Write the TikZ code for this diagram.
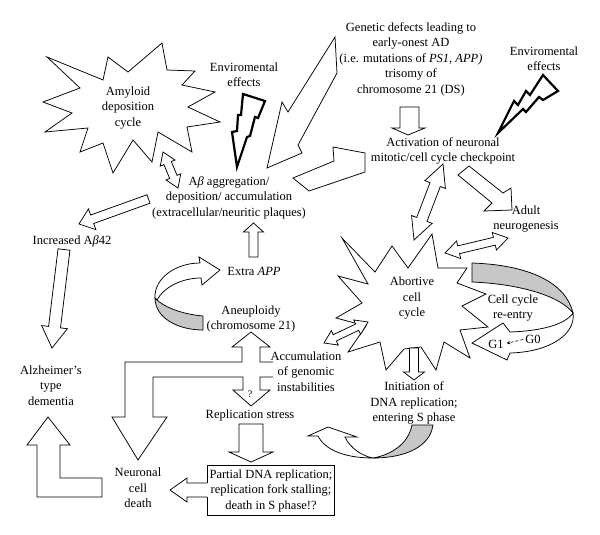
\documentclass[tikz,border=0pt]{standalone}
\usepackage{fontspec}
\setmainfont{Liberation Serif}
\usetikzlibrary{calc,arrows.meta}
\tikzset{
 blk/.style={draw=black, fill=white, line width=0.75pt, line join=miter},
 boltshape/.style={draw=black, fill=white, line width=2.2pt, line join=miter},
 gry/.style={draw=black, fill=black!22, line width=0.75pt},
 lbl/.style={align=center, inner sep=0pt, font=\fontsize{12.5}{15.5}\selectfont},
}
% single block arrow: #1 start, #2 tip, #3 shaft half width, #4 head half width, #5 head length
\newcommand\sglarr[5]{%
  \coordinate (sc) at ($(#2)!#5!(#1)$);
  \draw[blk] ($(#1)!#3!90:(#2)$) -- ($(sc)!#3!90:(#2)$) -- ($(sc)!#4!90:(#2)$) -- (#2)
    -- ($(sc)!#4!-90:(#2)$) -- ($(sc)!#3!-90:(#2)$) -- ($(#1)!#3!-90:(#2)$) -- cycle;}
% double block arrow
\newcommand\dblarr[5]{%
  \coordinate (da) at ($(#1)!#5!(#2)$);
  \coordinate (db) at ($(#2)!#5!(#1)$);
  \draw[blk] (#1) -- ($(da)!#4!90:(#2)$) -- ($(da)!#3!90:(#2)$) -- ($(db)!#3!-90:(#1)$)
    -- ($(db)!#4!-90:(#1)$) -- (#2) -- ($(db)!#4!90:(#1)$) -- ($(db)!#3!90:(#1)$)
    -- ($(da)!#3!-90:(#2)$) -- ($(da)!#4!-90:(#2)$) -- cycle;}
\begin{document}
\begin{tikzpicture}[x=1pt,y=-1pt]
\useasboundingbox (0,0) rectangle (600,535);

% ---- amyloid star
\draw[blk] (47,57)--(103,80)--(108,57)--(128,72)--(162,43)--(167,70)--(195,71)--(182,85)--(215,92)--(188,107)--(220,122)--(187,127)--(192,152)--(158,132)--(152,162)--(133,140)--(113,173)--(103,143)--(80,152)--(88,128)--(45,132)--(72,113)--(43,102)--(80,88)--cycle;

% ---- abortive star
\draw[blk] (342,238)--(375,272)--(392,246)--(408,268)--(432,234)--(438,268)--(467,268)--(457,283)--(486,294)--(462,306)--(488,327)--(460,330)--(470,358)--(444,342)--(436,370)--(421,347)--(404,349)--(386,370)--(380,342)--(348,352)--(366,326)--(336,318)--(362,303)--(338,276)--(368,284)--cycle;

% ---- lightning bolts
\draw[boltshape] (243,94)--(265,101)--(258,118)--(255,117)--(250,136)--(247,137)--(237,167)--(232,132)--(237,131)--(238,115)--(241,115)--cycle;
\draw[boltshape] (498,133)--(514,101)--(518,105)--(526,91)--(530,95)--(543,75)--(558,91)--(543,100)--(539,97)--(526,112)--(523,109)--cycle;

% ---- big arrow from genetic defects
\draw[blk] (335,37)--(337,73)--(298,145)--(302,153)--(267,168)--(282,102)--(288,112)--cycle;

% ---- genetic -> activation
\draw[blk] (400,107)--(419,107)--(419,128)--(425,128)--(408,135)--(392,128)--(400,128)--cycle;

% ---- abeta -> activation
\draw[blk] (293,178)--(334,161)--(333,147)--(365,153)--(365,172)--(309,191)--cycle;

% ---- activation -> adult neurogenesis
\draw[blk] (458,175)--(469,166)--(503,193)--(511,188)--(512,210)--(484,211)--(492,203)--cycle;

% ---- coordinates for straight arrows
\coordinate (amyA) at (163,152); \coordinate (amyB) at (178,188);
\coordinate (incA) at (148.5,199); \coordinate (incB) at (79,224);
\coordinate (alzA) at (64,249.5); \coordinate (alzB) at (52,348);
\coordinate (extA) at (253.5,257); \coordinate (extB) at (253.5,223);
\coordinate (repA) at (251,424); \coordinate (repB) at (251,462);
\coordinate (iniA) at (414,348); \coordinate (iniB) at (414,380);
\coordinate (actA) at (414,240); \coordinate (actB) at (443,164);
\coordinate (adA) at (445,253); \coordinate (adB) at (508,238);
\coordinate (acA) at (324,343); \coordinate (acB) at (368,322);

\dblarr{amyA}{amyB}{4pt}{8pt}{12pt}
\sglarr{incA}{incB}{4.5pt}{11pt}{14pt}
\sglarr{alzA}{alzB}{6pt}{13pt}{21pt}
\sglarr{extA}{extB}{4.5pt}{10pt}{9pt}
\sglarr{repA}{repB}{12pt}{22pt}{10pt}
\sglarr{iniA}{iniB}{4.5pt}{10.5pt}{8pt}
\dblarr{actA}{actB}{5.5pt}{11pt}{22pt}
\dblarr{adA}{adB}{4pt}{9pt}{14pt}
\dblarr{acA}{acB}{3.5pt}{8pt}{12pt}

% ---- L arrow to Alzheimer's
\draw[blk] (37,445)--(27,445)--(48,417)--(70,445)--(60,445)--(60,478)--(102,478)--(102,497)--(37,497)--cycle;

% ---- compound arrow from accumulation
\fill[white] (273,362)--(260,362)--(260,347)--(270,347)--(251,332)--(232,347)--(242,347)--(242,362)--(125,362)--(125,417)--(112,417)--(138,460)--(167,417)--(153,417)--(153,377)--(243,377)--(243,390)--(233,390)--(251,406)--(270,390)--(260,390)--(260,377)--(273,377)--cycle;
\draw[line width=0.75pt, line join=miter] (273,362)--(260,362)--(260,347)--(270,347)--(251,332)--(232,347)--(242,347)--(242,362)--(125,362)--(125,417)--(112,417)--(138,460)--(167,417)--(153,417)--(153,377)--(243,377)--(243,390)--(233,390)--(251,406)--(270,390)--(260,390)--(260,377)--(273,377);

% ---- partial box and arrow to neuronal death
\draw[line width=0.75pt] (207,483)--(207,465)--(334,465)--(334,515)--(207,515)--(207,497);
\draw[line width=0.75pt, line join=miter] (207,483)--(187,483)--(187,478)--(170,490)--(187,502)--(187,497)--(207,497);

% ---- curved arrow near Extra APP
\draw[gry] (203,316) .. controls (180,314) and (162,306) .. (155,298) .. controls (155,318) and (178,330) .. (203,330) -- cycle;
\draw[blk] (155,298) .. controls (154,278) and (176,263) .. (200,263) -- (199,257) -- (220,270) -- (202,285) -- (201,278) .. controls (182,278) and (164,287) .. (157,300) -- cycle;

% ---- curved arrow cell cycle re-entry
\draw[gry] (472,263) .. controls (530,265) and (566,283) .. (573,313) .. controls (560,296) and (520,284) .. (472,282) -- cycle;
\draw[blk] (573,313) .. controls (576,334) and (550,352) .. (510,353) -- (507,360) -- (472,343) -- (503,323) -- (510,332) .. controls (540,331) and (565,325) .. (573,313) -- cycle;

% ---- curved arrow at bottom
\draw[gry] (412,425) -- (433,425) .. controls (430,447) and (405,458) .. (373,458) .. controls (390,455) and (408,445) .. (412,425) -- cycle;
\draw[blk] (373,458) .. controls (345,458) and (325,450) .. (318,436) -- (308,436) -- (328,427) -- (357,437) -- (345,437) .. controls (350,448) and (362,456) .. (373,458) -- cycle;

% ---- labels
\node[lbl] (amy) at (128,108) {Amyloid\\deposition\\cycle};
\node[lbl] (env1) at (244,74.5) {Enviromental\\effects};
\node[lbl] (gen) at (411,59) {Genetic defects leading to\\early-onest AD\\(i.e. mutations of \textit{PS1}, \textit{APP)}\\trisomy of\\chromosome 21 (DS)};
\node[lbl] (env2) at (544,58.5) {Enviromental\\effects};
\node[lbl] (act) at (443,151) {Activation of neuronal\\mitotic/cell cycle checkpoint};
\node[lbl] (abeta) at (229,197.5) {A\textit{β} aggregation/\\deposition/ accumulation\\(extracellular/neuritic plaques)};
\node[lbl] (incr) at (72,241) {Increased A\textit{β}42};
\node[lbl] (alz) at (51,385.5) {Alzheimer’s\\type\\dementia};
\node[lbl] (extra) at (254,271) {Extra \textit{APP}};
\node[lbl] (aneu) at (251,319) {Aneuploidy\\(chromosome 21)};
\node[lbl] (accum) at (306,371.5) {Accumulation\\of genomic\\instabilities};
\node[lbl, font=\fontsize{10}{12}\selectfont] (qm) at (250,394) {?};
\node[lbl] (repl) at (250,415) {Replication stress};
\node[lbl] (part) at (271,490.5) {Partial DNA replication;\\replication fork stalling;\\death in S phase!?};
\node[lbl] (neur) at (138,488) {Neuronal\\cell\\death};
\node[lbl] (abort) at (412,298.5) {Abortive\\cell\\cycle};
\node[lbl] (init) at (414,403) {Initiation of\\DNA replication;\\entering S phase};
\node[lbl] (adult) at (526,219) {Adult\\neurogenesis};
\node[lbl] (reent) at (513,308) {Cell cycle\\re-entry};
\node[lbl] (g1) at (496,344) {G1};
\node[lbl] (g0) at (533,339) {G0};
\draw[-{Stealth[length=3.5pt,width=3.5pt]}, densely dashed, line width=0.6pt, shorten <=2pt, shorten >=3pt] (g0.west) -- (g1.east);
\end{tikzpicture}
\end{document}
